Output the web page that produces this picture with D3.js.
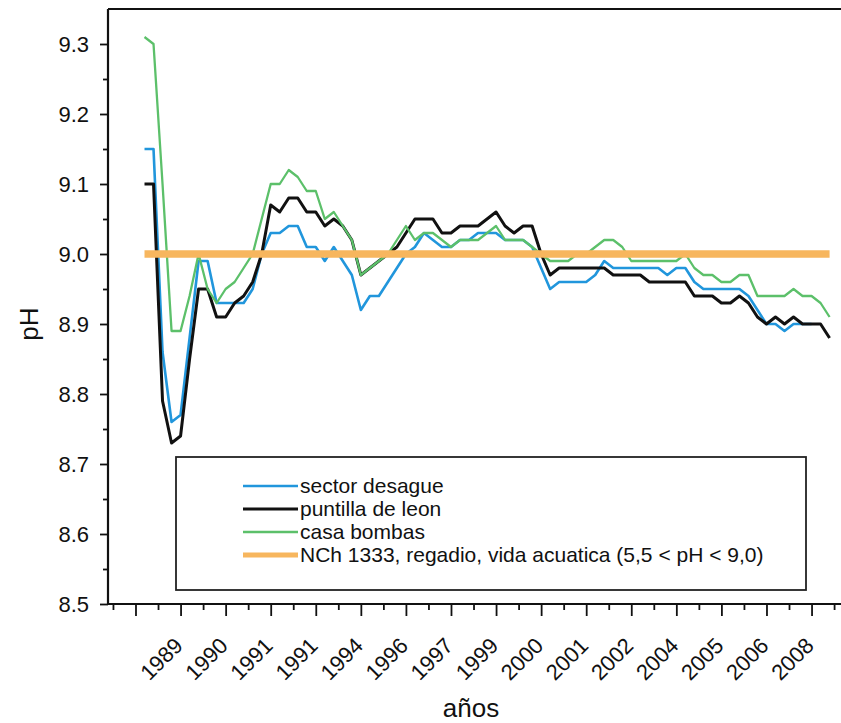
<html>
<head>
  <script src="https://d3js.org/d3.v7.min.js"></script>
  <style>
    body { margin: 0; background: #fff; }
    text { font-family: "Liberation Sans", Arial, sans-serif; fill: #111; }
    .frame { stroke: #111; stroke-width: 2.2px; fill: none; }
    .axis path { stroke: #111; stroke-width: 2.2px; }
    .axis line { stroke: #111; stroke-width: 1.8px; }
    .legendbox { fill: none; stroke: #222; stroke-width: 1.8px; }
  </style>
</head>
<body>
  <svg id="chart" width="841" height="723"></svg>
  <script>
    // valores (una muestra por posicion, empezando en 1)
    const sectorDesague = [9.15, 9.15, 8.86, 8.76, 8.77, 8.88, 8.99, 8.99, 8.93, 8.93,
      8.93, 8.93, 8.95, 9.00, 9.03, 9.03, 9.04, 9.04, 9.01, 9.01,
      8.99, 9.01, 8.99, 8.97, 8.92, 8.94, 8.94, 8.96, 8.98, 9.00,
      9.01, 9.03, 9.02, 9.01, 9.01, 9.02, 9.02, 9.03, 9.03, 9.03,
      9.02, 9.02, 9.02, 9.01, 8.98, 8.95, 8.96, 8.96, 8.96, 8.96,
      8.97, 8.99, 8.98, 8.98, 8.98, 8.98, 8.98, 8.98, 8.97, 8.98,
      8.98, 8.96, 8.95, 8.95, 8.95, 8.95, 8.95, 8.94, 8.92, 8.90,
      8.90, 8.89, 8.90, 8.90, 8.90];
    const puntillaLeon = [9.10, 9.10, 8.79, 8.73, 8.74, 8.85, 8.95, 8.95, 8.91, 8.91,
      8.93, 8.94, 8.96, 9.00, 9.07, 9.06, 9.08, 9.08, 9.06, 9.06,
      9.04, 9.05, 9.04, 9.02, 8.97, 8.98, 8.99, 9.00, 9.01, 9.03,
      9.05, 9.05, 9.05, 9.03, 9.03, 9.04, 9.04, 9.04, 9.05, 9.06,
      9.04, 9.03, 9.04, 9.04, 9.00, 8.97, 8.98, 8.98, 8.98, 8.98,
      8.98, 8.98, 8.97, 8.97, 8.97, 8.97, 8.96, 8.96, 8.96, 8.96,
      8.96, 8.94, 8.94, 8.94, 8.93, 8.93, 8.94, 8.93, 8.91, 8.90,
      8.91, 8.90, 8.91, 8.90, 8.90, 8.90, 8.88];
    const casaBombas = [9.31, 9.30, 9.10, 8.89, 8.89, 8.94, 9.00, 8.95, 8.93, 8.95,
      8.96, 8.98, 9.00, 9.05, 9.10, 9.10, 9.12, 9.11, 9.09, 9.09,
      9.05, 9.06, 9.04, 9.02, 8.97, 8.98, 8.99, 9.00, 9.02, 9.04,
      9.02, 9.03, 9.03, 9.02, 9.01, 9.02, 9.02, 9.02, 9.03, 9.04,
      9.02, 9.02, 9.02, 9.01, 9.00, 8.99, 8.99, 8.99, 9.00, 9.00,
      9.01, 9.02, 9.02, 9.01, 8.99, 8.99, 8.99, 8.99, 8.99, 8.99,
      9.00, 8.98, 8.97, 8.97, 8.96, 8.96, 8.97, 8.97, 8.94, 8.94,
      8.94, 8.94, 8.95, 8.94, 8.94, 8.93, 8.91];
    // norma NCh 1333: limite superior constante, primera y ultima muestra
    const normaIdx = [1, 77];
    const normaValue = [9.0, 9.0];

    const yearLabels = ["1989", "1990", "1991", "1991", "1994", "1996", "1997", "1999",
      "2000", "2001", "2002", "2004", "2005", "2006", "2008"];
    const yTicks = [8.5, 8.6, 8.7, 8.8, 8.9, 9.0, 9.1, 9.2, 9.3];

    const seriesNames = ["sector desague", "puntilla de leon", "casa bombas",
      "NCh 1333, regadio, vida acuatica (5,5 < pH < 9,0)"];
    const seriesColors = ["#2196dc", "#111111", "#5cc06a", "#f7b65e"];
    const seriesWidths = [2.6, 3, 2.3, 7.5];

    const svg = d3.select("#chart");
    const plotLeft = 108, plotTop = 9, plotBottom = 604, plotRight = 844;

    const x = d3.scaleLinear().domain([-3.05, 78.6]).range([plotLeft, plotRight]);
    const y = d3.scaleLinear().domain([8.5, 9.35]).range([plotBottom, plotTop]);

    // marco superior
    svg.append("line").attr("class", "frame")
      .attr("x1", plotLeft).attr("x2", 841).attr("y1", plotTop).attr("y2", plotTop);

    // eje y
    const yMinor = d3.range(8.55, 9.35, 0.1);
    svg.append("g").attr("class", "axis")
      .attr("transform", "translate(" + plotLeft + ",0)")
      .call(d3.axisLeft(y).tickValues(yMinor).tickSize(5).tickFormat(""))
      .select(".domain").remove();
    const yAxis = svg.append("g").attr("class", "axis")
      .attr("transform", "translate(" + plotLeft + ",0)")
      .call(d3.axisLeft(y).tickValues(yTicks).tickSize(8).tickPadding(11)
        .tickFormat(d3.format(".1f")).tickSizeOuter(0));
    yAxis.select(".domain").attr("d", "M0," + plotTop + "V" + plotBottom);
    yAxis.selectAll("text").style("font-size", "22px");

    // eje x
    const majorPos = d3.range(0, 76, 5);
    const minorPos = d3.range(-2.5, 78, 5);
    svg.append("g").attr("class", "axis")
      .attr("transform", "translate(0," + plotBottom + ")")
      .call(d3.axisBottom(x).tickValues(minorPos).tickSize(6).tickFormat(""))
      .select(".domain").remove();
    const xAxis = svg.append("g").attr("class", "axis")
      .attr("transform", "translate(0," + plotBottom + ")")
      .call(d3.axisBottom(x).tickValues(majorPos).tickSize(12)
        .tickFormat(d => d === 0 ? "" : yearLabels[d / 5 - 1]).tickSizeOuter(0));
    xAxis.select(".domain").attr("d", "M" + plotLeft + ",0H841");
    xAxis.selectAll("text")
      .style("font-size", "22px")
      .attr("text-anchor", "end")
      .attr("y", 0).attr("dy", 0)
      .attr("transform", "translate(3,43) rotate(-45)");

    // titulos de ejes
    svg.append("text").attr("x", 471).attr("y", 717)
      .attr("text-anchor", "middle").style("font-size", "26px").text("años");
    svg.append("text").attr("transform", "translate(38,324) rotate(-90)")
      .attr("text-anchor", "middle").style("font-size", "26px").text("pH");

    // series
    const line = d3.line().x(d => x(d[0])).y(d => y(d[1]));
    const allSeries = [sectorDesague, puntillaLeon, casaBombas];
    allSeries.forEach((vals, k) => {
      svg.append("path")
        .datum(vals.map((v, i) => [i + 1, v]))
        .attr("fill", "none")
        .attr("stroke", seriesColors[k])
        .attr("stroke-width", seriesWidths[k])
        .attr("stroke-linejoin", "round")
        .attr("d", line);
    });
    svg.append("path")
      .datum(normaIdx.map((v, i) => [v, normaValue[i]]))
      .attr("fill", "none")
      .attr("stroke", seriesColors[3])
      .attr("stroke-width", seriesWidths[3])
      .attr("d", line);

    // leyenda
    const lg = svg.append("g");
    lg.append("rect").attr("class", "legendbox")
      .attr("x", 176).attr("y", 457).attr("width", 630).attr("height", 133);
    seriesNames.forEach((name, k) => {
      const ly = 486 + k * 23;
      lg.append("line")
        .attr("x1", 243).attr("x2", 298).attr("y1", ly).attr("y2", ly)
        .attr("stroke", seriesColors[k])
        .attr("stroke-width", k === 3 ? 5 : seriesWidths[k]);
      lg.append("text").attr("x", 300).attr("y", ly).attr("dy", "0.35em")
        .style("font-size", "21px").text(name);
    });
  </script>
</body>
</html>
